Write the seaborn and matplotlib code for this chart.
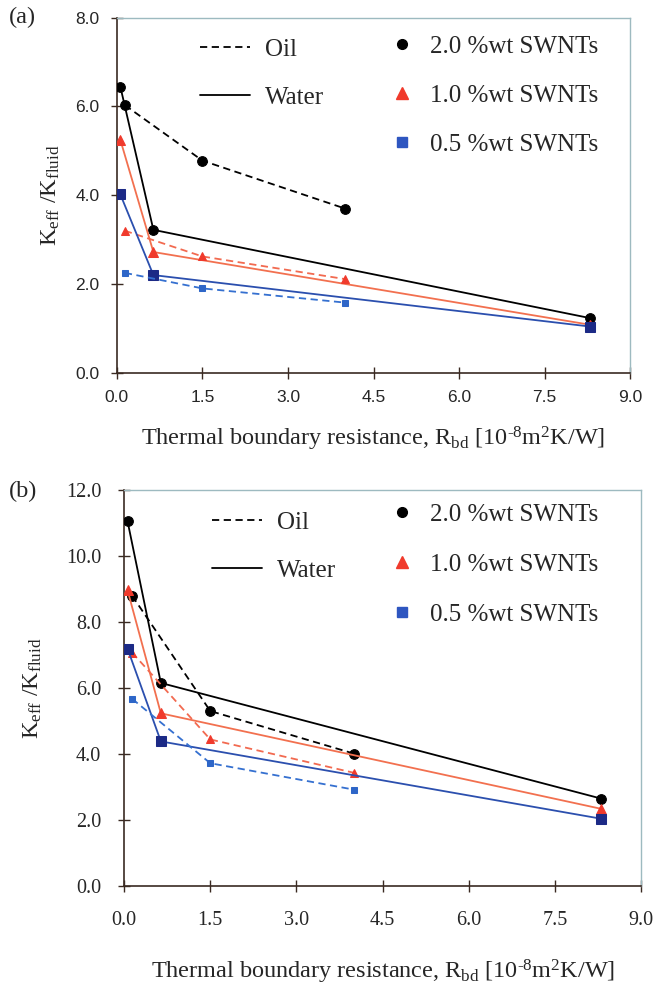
import matplotlib
matplotlib.use("Agg")
import matplotlib.pyplot as plt
import pandas as pd
import seaborn as sns
from matplotlib.lines import Line2D

# thermal boundary resistance values (10^-8 m2K/W)
r_water = [0.06, 0.64, 8.3]
r_oil = [0.14, 1.5, 4.0]

# panel (a)
a_water_20 = [6.45, 3.22, 1.23]
a_water_10 = [5.25, 2.72, 1.08]
a_water_05 = [4.02, 2.20, 1.04]
a_oil_20 = [6.03, 4.78, 3.70]
a_oil_10 = [3.20, 2.62, 2.11]
a_oil_05 = [2.25, 1.90, 1.58]

# panel (b)
b_water_20 = [11.06, 6.16, 2.66]
b_water_10 = [8.97, 5.24, 2.35]
b_water_05 = [7.20, 4.39, 2.05]
b_oil_20 = [8.80, 5.31, 4.02]
b_oil_10 = [7.08, 4.45, 3.44]
b_oil_05 = [5.68, 3.73, 2.93]

conc_labels = ["2.0 %wt SWNTs", "1.0 %wt SWNTs", "0.5 %wt SWNTs"]
fluid_labels = ["Oil", "Water"]
x_ticks = [0.0, 1.5, 3.0, 4.5, 6.0, 7.5, 9.0]

sns.set_theme(style="white")
plt.rcParams["font.family"] = ["Liberation Serif", "DejaVu Serif"]
plt.rcParams["mathtext.fontset"] = "custom"
plt.rcParams["mathtext.rm"] = "Liberation Serif"
plt.rcParams["mathtext.it"] = "Liberation Serif:italic"

SPINE = "#3a2a22"
FRAME = "#9dbac0"
DASH = (0, (4, 2.5))

# style per concentration: (line colour, marker, water marker colour, oil marker colour, water ms, oil ms)
styles = {
    "2.0": ("black", "o", "black", "black", 7, 7),
    "1.0": ("#f2704f", "^", "#f03a2c", "#f03a2c", 7, 5.5),
    "0.5": ("#2b4fae", "s", "#1c2a86", "#2e66c8", 7, 5),
}
oil_line = {"2.0": "black", "1.0": "#f26a50", "0.5": "#3570d0"}

XLABEL = r"Thermal boundary resistance, R$_{\mathrm{bd}}$ [10$^{\text{-8}}$m$^{\mathrm{2}}$K/W]"
YLABEL = r"K$_{\mathrm{eff}}$ /K$_{\mathrm{fluid}}$"


def draw_panel(ax, water, oil, ymax, cfg):
    for key, wy, oy in zip(["2.0", "1.0", "0.5"], water, oil):
        lc, mk, wmc, omc, wms, oms = styles[key]
        dw = pd.DataFrame({"R": r_water, "K": wy})
        do = pd.DataFrame({"R": r_oil, "K": oy})
        sns.lineplot(data=dw, x="R", y="K", ax=ax, color=lc, lw=1.3,
                     marker=mk, markersize=wms, markerfacecolor=wmc,
                     markeredgecolor=wmc, zorder=3)
        sns.lineplot(data=do, x="R", y="K", ax=ax, color=oil_line[key], lw=1.3,
                     linestyle=DASH, marker=mk, markersize=oms,
                     markerfacecolor=omc, markeredgecolor=omc, zorder=3)

    y_ticks = [v * 2.0 for v in range(int(ymax / 2) + 1)]
    ax.set_xlim(0, 9.0)
    ax.set_ylim(0, ymax)
    ax.set_xticks(x_ticks)
    ax.set_yticks(y_ticks)
    ax.set_xticklabels([f"{v:.1f}" for v in x_ticks], family=cfg["tick_family"])
    ax.set_yticklabels([f"{v:.1f}" for v in y_ticks], family=cfg["tick_family"])
    ax.tick_params(axis="both", direction="inout", length=9, width=1,
                   color=SPINE, labelsize=cfg["tick_size"], bottom=True, left=True)
    ax.tick_params(axis="x", pad=cfg["xpad"])
    ax.tick_params(axis="y", pad=cfg["ypad"])
    for side in ["left", "bottom"]:
        ax.spines[side].set_color(SPINE)
        ax.spines[side].set_linewidth(1.2)
    for side in ["top", "right"]:
        ax.spines[side].set_color(FRAME)
        ax.spines[side].set_linewidth(1.0)

    ax.set_xlabel(XLABEL, fontsize=17.5, labelpad=cfg["xlabelpad"])
    ax.set_ylabel(YLABEL, fontsize=17.5, labelpad=cfg["ylabelpad"])

    fluid_handles = [
        Line2D([], [], color="black", lw=1.3, linestyle=DASH),
        Line2D([], [], color="black", lw=1.3),
    ]
    leg1 = ax.legend(fluid_handles, fluid_labels, loc="upper left",
                     bbox_to_anchor=cfg["fluid_anchor"], frameon=False, fontsize=18,
                     borderpad=0, borderaxespad=0, handlelength=2.0,
                     handletextpad=0.6, labelspacing=cfg["fluid_ls"])
    ax.add_artist(leg1)

    conc_handles = [
        Line2D([], [], ls="none", marker="o", ms=7, color="black"),
        Line2D([], [], ls="none", marker="^", ms=8, color="#f03a2c"),
        Line2D([], [], ls="none", marker="s", ms=7, color="#2e56c0"),
    ]
    ax.legend(conc_handles, conc_labels, loc="upper left",
              bbox_to_anchor=cfg["conc_anchor"], frameon=False, fontsize=18,
              borderpad=0, borderaxespad=0, handlelength=1.0,
              handletextpad=0.62, labelspacing=cfg["conc_ls"])


cfg_a = dict(tick_family="Liberation Sans", tick_size=12.5, xpad=8, ypad=8,
             xlabelpad=14, ylabelpad=10,
             fluid_anchor=(0.162, 0.941), fluid_ls=1.0,
             conc_anchor=(0.531, 0.950), conc_ls=1.06)
cfg_b = dict(tick_family="Liberation Serif", tick_size=14.5, xpad=13, ypad=12,
             xlabelpad=20, ylabelpad=16,
             fluid_anchor=(0.170, 0.947), fluid_ls=1.02,
             conc_anchor=(0.5135, 0.966), conc_ls=1.1)

fig = plt.figure(figsize=(6.53, 9.86), dpi=100)
ax_a = fig.add_axes([0.179, 0.622, 0.786, 0.360])
ax_b = fig.add_axes([0.190, 0.101, 0.792, 0.402])

draw_panel(ax_a, [a_water_20, a_water_10, a_water_05],
           [a_oil_20, a_oil_10, a_oil_05], 8.0, cfg_a)
draw_panel(ax_b, [b_water_20, b_water_10, b_water_05],
           [b_oil_20, b_oil_10, b_oil_05], 12.0, cfg_b)

fig.text(0.014, 0.982, "(a)", fontsize=17.5, va="center", ha="left")
fig.text(0.014, 0.502, "(b)", fontsize=17.5, va="center", ha="left")

fig.savefig("out.png", dpi=100)
